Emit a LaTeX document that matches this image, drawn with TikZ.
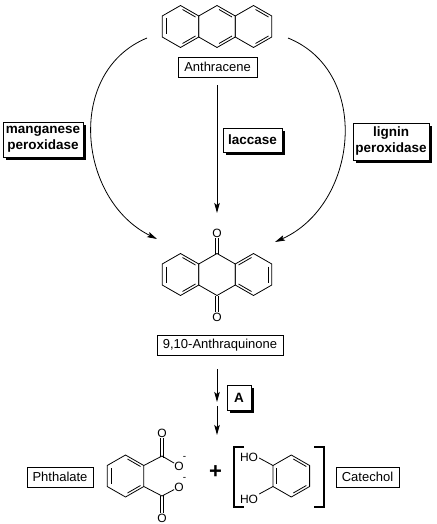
\documentclass[tikz,border=0pt]{standalone}
\usepackage{xcolor}
\usepackage{fontspec}
\setmainfont{Liberation Sans}
\usetikzlibrary{arrows.meta,calc,shadows}
\tikzset{
  name box/.style={
    rectangle,
    draw=black,
    line width=0.8pt,
    fill=white,
    minimum height=20pt,
    inner sep=0pt,
    font=\fontsize{13}{15}\selectfont,
  },
  enzyme box/.style={
    rectangle,
    draw=black,
    line width=0.8pt,
    fill=white,
    inner sep=0pt,
    align=center,
    font=\fontsize{13.5}{16}\selectfont\bfseries,
    general shadow={fill=black,shadow xshift=3pt,shadow yshift=-3pt},
  },
  atom/.style={inner sep=0pt, font=\fontsize{12}{14}\selectfont},
  bond/.style={line width=0.8pt},
  rxn arrow/.style={-{Stealth[length=10pt,width=5.5pt,inset=2pt]}, line width=0.8pt},
  bracket/.style={line width=2pt},
  ring/.pic={
    \draw[bond] (0,-21) -- (18.3,-10.5) -- (18.3,10.5) -- (0,21) -- (-18.3,10.5) -- (-18.3,-10.5) -- cycle;
  },
  inner left/.pic={\draw[bond] (-14.5,-8) -- (-14.5,8);},
  inner right/.pic={\draw[bond] (14.5,-8) -- (14.5,8);},
  inner ne/.pic={\draw[bond] (2,-17) -- (15,-9.5);},
  inner se/.pic={\draw[bond] (2,17) -- (15,9.5);},
  inner nw/.pic={\draw[bond] (-2,-17) -- (-15,-9.5);},
  inner sw/.pic={\draw[bond] (-2,17) -- (-15,9.5);},
}

\begin{document}
\begin{tikzpicture}[x=1pt,y=-1pt]
  \useasboundingbox (0,0) rectangle (436,524);

  % anthracene
  \foreach \x in {180.5,217,253.5} {
    \pic at (\x,26.5) {ring};
    \pic at (\x,26.5) {inner ne};
    \pic at (\x,26.5) {inner se};
  }
  \pic at (180.5,26.5) {inner left};
  \node[name box,minimum width=79pt] (anthracene) at (217.5,67) {Anthracene};

  % anthraquinone
  \foreach \x in {180.5,217,253.5} {
    \pic at (\x,274.5) {ring};
  }
  \pic at (180.5,274.5) {inner left};
  \pic at (180.5,274.5) {inner ne};
  \pic at (180.5,274.5) {inner se};
  \pic at (253.5,274.5) {inner right};
  \pic at (253.5,274.5) {inner nw};
  \pic at (253.5,274.5) {inner sw};
  \node[atom] (oxotop) at (217,233) {O};
  \node[atom] (oxobot) at (217,317) {O};
  \draw[bond] ($(oxotop.south)+(-1.8,1)$) -- (215.2,253.5);
  \draw[bond] ($(oxotop.south)+(1.8,1)$) -- (218.8,253.5);
  \draw[bond] ($(oxobot.north)+(-1.8,-1)$) -- (215.2,295.5);
  \draw[bond] ($(oxobot.north)+(1.8,-1)$) -- (218.8,295.5);
  \node[name box,minimum width=126pt] (quinone) at (220,345) {9,10-Anthraquinone};

  % enzymes
  \node[enzyme box,minimum width=80pt,minimum height=35pt] (manganese) at (43,139.5) {manganese\\peroxidase};
  \node[enzyme box,minimum width=59pt,minimum height=24pt] (laccase) at (252.5,140) {laccase};
  \node[enzyme box,minimum width=76pt,minimum height=37pt] (lignin) at (391,141.5) {lignin\\peroxidase};

  \coordinate (leftstart) at (147,38);
  \coordinate (leftend) at (157,239);
  \coordinate (rightstart) at (288,38);
  \coordinate (rightend) at (275,242);
  \draw[rxn arrow] (leftstart) .. controls (65,72) and (78,200) .. (leftend);
  \draw[rxn arrow] (rightstart) .. controls (372,72) and (358,205) .. (rightend);
  \coordinate (midend) at (217,213);
  \draw[rxn arrow,shorten <=8pt] (anthracene.south -| midend) -- (midend);

  % lower pathway
  \node[enzyme box,minimum width=24pt,minimum height=25pt] (stepa) at (239,397.5) {A};
  \coordinate (upstart) at (217,369);
  \coordinate (upend) at (217,402);
  \coordinate (downstart) at (217,406);
  \coordinate (downend) at (217,435);
  \draw[rxn arrow] (upstart) -- (upend);
  \draw[rxn arrow] (downstart) -- (downend);

  % phthalate
  \node[name box,minimum width=66pt] (phthalate) at (60,477) {Phthalate};
  \pic at (125.5,476) {ring};
  \pic at (125.5,476) {inner left};
  \pic at (125.5,476) {inner ne};
  \pic at (125.5,476) {inner se};
  \node[atom] (oup) at (162,433) {O};
  \node[atom] (olow) at (162,518) {O};
  \node[atom] (omup) at (179,466) {O};
  \node[atom] (omlow) at (179,487) {O};
  \node[atom,font=\fontsize{10}{12}\selectfont] (minusup) at (184.5,458) {-};
  \node[atom,font=\fontsize{10}{12}\selectfont] (minuslow) at (184.5,479) {-};
  \draw[bond] (143.8,465.5) -- (162,456) -- (omup);
  \draw[bond] (143.8,486.5) -- (162,496) -- (omlow);
  \draw[bond] ($(oup.south)+(-1.8,1)$) -- (160.2,456.5);
  \draw[bond] ($(oup.south)+(1.8,1)$) -- (163.8,457.5);
  \draw[bond] ($(olow.north)+(-1.8,-1)$) -- (160.2,495.5);
  \draw[bond] ($(olow.north)+(1.8,-1)$) -- (163.8,494.5);

  \node[inner sep=0pt,font=\fontsize{22}{24}\selectfont\bfseries] (plus) at (215.5,472.5) {+};

  % catechol
  \pic at (291.3,476) {ring};
  \pic at (291.3,476) {inner left};
  \pic at (291.3,476) {inner ne};
  \pic at (291.3,476) {inner se};
  \node[atom] (houp) at (249,457) {HO};
  \node[atom] (holow) at (249,499) {HO};
  \draw[bond] (houp.east) ++(1,1) -- (273,465.5);
  \draw[bond] (holow.east) ++(1,-5) -- (273,486.5);
  \draw[bracket] (244,447) -- (234,447) -- (234,507) -- (244,507);
  \draw[bracket] (314,447) -- (324,447) -- (324,507) -- (314,507);
  \node[name box,minimum width=63pt] (catechol) at (367.5,477) {Catechol};
\end{tikzpicture}
\end{document}
